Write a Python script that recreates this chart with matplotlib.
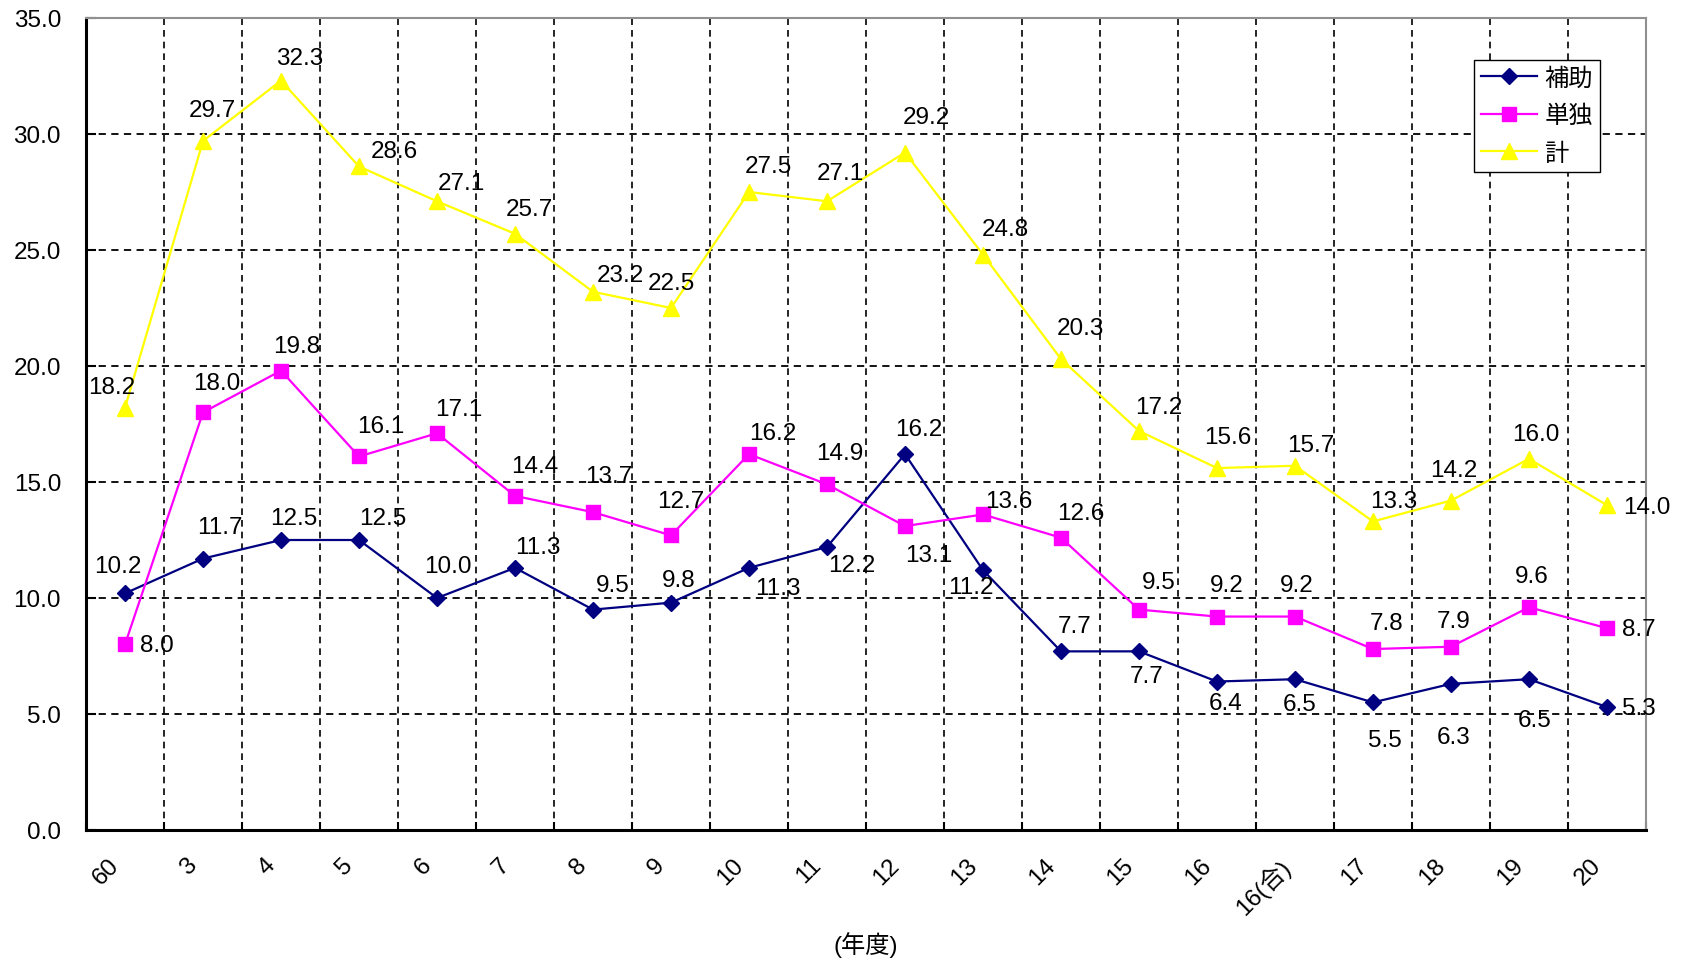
import matplotlib
matplotlib.use('Agg')
import matplotlib.pyplot as plt
import numpy as np

plt.rcParams['font.family'] = ['Liberation Sans', 'Noto Sans CJK JP', 'DejaVu Sans']

years = ['60', '3', '4', '5', '6', '7', '8', '9', '10', '11', '12', '13', '14', '15',
         '16', '16(合)', '17', '18', '19', '20']
hojo = [10.2, 11.7, 12.5, 12.5, 10.0, 11.3, 9.5, 9.8, 11.3, 12.2, 16.2, 11.2, 7.7, 7.7,
        6.4, 6.5, 5.5, 6.3, 6.5, 5.3]
tandoku = [8.0, 18.0, 19.8, 16.1, 17.1, 14.4, 13.7, 12.7, 16.2, 14.9, 13.1, 13.6, 12.6, 9.5,
           9.2, 9.2, 7.8, 7.9, 9.6, 8.7]
kei = [18.2, 29.7, 32.3, 28.6, 27.1, 25.7, 23.2, 22.5, 27.5, 27.1, 29.2, 24.8, 20.3, 17.2,
       15.6, 15.7, 13.3, 14.2, 16.0, 14.0]

# label offsets (dx, dy) in pixels of the shrunk reference, y down
off_hojo = [(-7, -25), (16, -29), (12, -20), (22, -20), (10, -30), (21, -19), (18, -23),
            (7, -21), (27, 19), (23, 17), (13, -23), (-11, 16), (13, -24), (7, 23),
            (8, 20), (4, 23), (11, 35), (2, 49), (5, 38), (30, 1)]
off_tan = [(30, 1), (13, -27), (15, -23), (20, -28), (20, -23), (18, -28), (15, -34),
           (9, -32), (22, -20), (12, -29), (22, 27), (24, -13), (18, -23), (18, -26),
           (9, -29), (2, -29), (13, -24), (2, -24), (3, -29), (30, 1)]
off_kei = [(-12, -19), (9, -29), (17, -21), (33, -14), (23, -17), (13, -23), (25, -16),
           (0, -23), (18, -24), (12, -26), (20, -33), (21, -24), (18, -29), (18, -22),
           (10, -29), (15, -19), (19, -19), (3, -28), (6, -23), (37, 2)]

S = 1686 / 1568
FS = 17.5

fig = plt.figure(figsize=(16.86, 9.62), dpi=100)
ax = fig.add_axes([86 / 1686, 1 - 831 / 962, 1560 / 1686, 812 / 962])

x = np.arange(len(years)) + 0.5
series = [
    ('補助', hojo, '#000080', 'D', 8, off_hojo),
    ('単独', tandoku, '#FF00FF', 's', 9.5, off_tan),
    ('計', kei, '#FFFF00', '^', 11, off_kei),
]
for name, vals, col, mk, ms, offs in series:
    ax.plot(x, vals, color=col, marker=mk, markersize=ms, linewidth=1.6, label=name)
    for xi, v, (dx, dy) in zip(x, vals, offs):
        ax.annotate(f'{v:.1f}', (xi, v), xytext=(dx * S, -dy * S), textcoords='offset pixels',
                    ha='center', va='center', fontsize=FS, color='black')

ax.set_xlim(0, len(years))
ax.set_ylim(0, 35)
ax.set_yticks(np.arange(0, 36, 5))
ax.set_yticklabels([f'{v:.1f}' for v in np.arange(0, 36, 5)], fontsize=FS)

# boundaries carry the tick marks, labels sit a bit left of each category centre
ax.set_xticks(np.arange(0, len(years) + 1))
ax.set_xticklabels([])
ax.set_xticks(x - 0.22, minor=True)
ax.set_xticklabels(years, minor=True, rotation=45, ha='right', va='top',
                   rotation_mode='anchor', fontsize=FS)
ax.tick_params(axis='x', which='minor', length=0, pad=17)
ax.tick_params(axis='x', which='major', direction='in', length=6, width=1.5)
ax.tick_params(axis='y', direction='in', length=7, width=1.5, pad=18)

dash = (0, (4, 3))
for yv in np.arange(5, 36, 5):
    ax.axhline(yv, color='black', linewidth=1.3, linestyle=dash, zorder=0)
for xv in range(1, len(years)):
    ax.axvline(xv, color='black', linewidth=1.2, linestyle=dash, zorder=0)

for side in ['left', 'bottom']:
    ax.spines[side].set_linewidth(2.2)
    ax.spines[side].set_color('black')
for side in ['top', 'right']:
    ax.spines[side].set_linewidth(1.5)
    ax.spines[side].set_color('#909090')

ax.set_xlabel('(年度)', fontsize=FS)
ax.xaxis.set_label_coords(0.5, -0.124)

leg = ax.legend(loc='upper left', bbox_to_anchor=(0.8897, 0.9483), borderaxespad=0,
                fancybox=False, edgecolor='black', framealpha=1, fontsize=FS,
                handlelength=2.3, handletextpad=0.3, labelspacing=0.62, borderpad=0.3)
leg.get_frame().set_linewidth(1.0)

fig.savefig('out.png', dpi=100)
